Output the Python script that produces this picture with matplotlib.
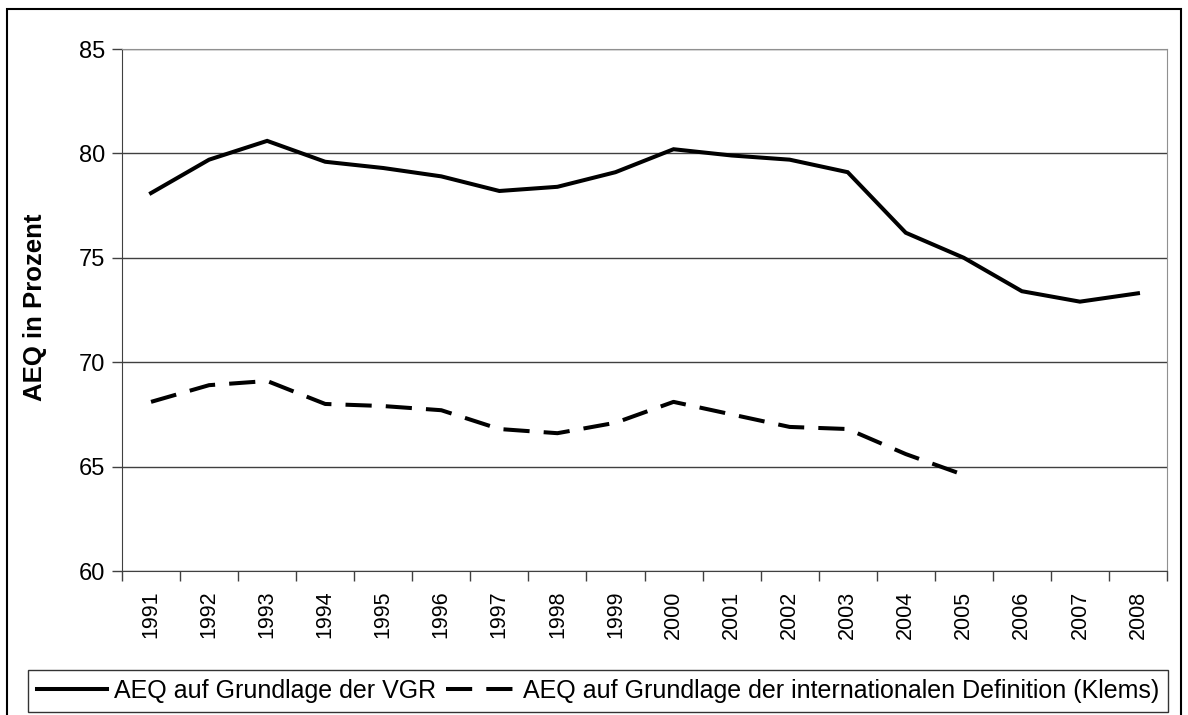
import numpy as np
import matplotlib
matplotlib.use("Agg")
import matplotlib.pyplot as plt
from matplotlib.patches import Rectangle

plt.rcParams['font.family'] = ['Liberation Sans', 'DejaVu Sans']

years = list(range(1991, 2009))
vgr = [78.1, 79.7, 80.6, 79.6, 79.3, 78.9, 78.2, 78.4, 79.1, 80.2,
       79.9, 79.7, 79.1, 76.2, 75.0, 73.4, 72.9, 73.3]
klems = [68.1, 68.9, 69.1, 68.0, 67.9, 67.7, 66.8, 66.6, 67.1, 68.1,
         67.5, 66.9, 66.8, 65.6, 64.6]
yticks = [60, 65, 70, 75, 80, 85]
label_vgr = "AEQ auf Grundlage der VGR"
label_klems = "AEQ auf Grundlage der internationalen Definition (Klems)"

W, H = 1188, 715
fig = plt.figure(figsize=(W/100, H/100), dpi=100)
ax = fig.add_axes([122/W, 1-571/H, (1167-122)/W, (571-49)/H])

x = np.arange(1, len(years)+1)
ax.plot(x, vgr, color='black', lw=2.9, solid_joinstyle='miter', label=label_vgr)
ax.plot(x[:len(klems)], klems, color='black', lw=2.9, dashes=(6.5, 3.5),
        dash_capstyle='butt', label=label_klems)

ax.set_xlim(0.5, len(years)+0.5)
ax.set_ylim(60, 85)
ax.set_yticks(yticks)
ax.set_yticklabels([str(v) for v in yticks], fontsize=17)
ax.set_xticks(x)
ax.set_xticklabels([str(y) for y in years], rotation=90, fontsize=15.5)
ax.tick_params(axis='x', length=0, pad=14)
ax.set_xticks(np.arange(0.5, len(years)+1, 1), minor=True)
ax.tick_params(axis='x', which='minor', length=7, width=1, color='#404040')
ax.tick_params(axis='y', length=7, width=1, color='#404040', pad=5)
ax.yaxis.grid(True, color='#404040', lw=1)
ax.set_axisbelow(True)
for s in ['top', 'right']:
    ax.spines[s].set_color('#909090')
for s in ['left', 'bottom']:
    ax.spines[s].set_color('#404040')
ax.set_ylabel("AEQ in Prozent", fontsize=18.5, fontweight='bold')
ax.yaxis.set_label_coords(47/W, 1-307/H, transform=fig.transFigure)

leg = fig.legend(loc='center', bbox_to_anchor=(598/W, 1-691/H), ncol=2,
                 fontsize=18, frameon=True, fancybox=False,
                 handlelength=2.8, handletextpad=0.28, columnspacing=0.4,
                 borderpad=0.35, borderaxespad=0)
leg.get_frame().set_edgecolor('black')
leg.get_frame().set_linewidth(1)

fig.patches.append(Rectangle((7/W, -0.05), 1174/W, 1.05 - 9/H, transform=fig.transFigure,
                             fill=False, edgecolor='black', lw=1.5))

fig.savefig("out.png", dpi=100)
